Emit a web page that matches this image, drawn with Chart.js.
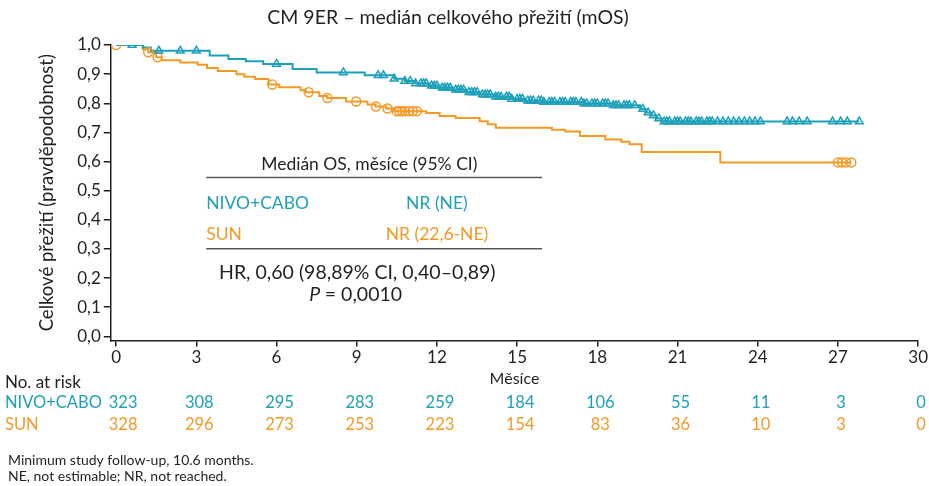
<!DOCTYPE html>
<html>
<head>
<meta charset="utf-8">
<script src="https://cdn.jsdelivr.net/npm/chart.js@4.4.1/dist/chart.umd.min.js"></script>
<style>
  html, body { margin: 0; padding: 0; background: #ffffff; }
  #wrap { width: 929px; height: 486px; position: relative; }
</style>
</head>
<body>
<div id="wrap"><canvas id="c" width="929" height="486"></canvas></div>
<script>
// ---------- DATA ----------
const titleText = 'CM 9ER – medián celkového přežití (mOS)';
const seriesNames = ['NIVO+CABO', 'SUN'];

// Kaplan–Meier step points (months, survival after that time)
const nivoTimes = [0, 1.0, 1.3, 3.5, 4.2, 4.85, 5.5, 6.6, 7.5, 9.3, 10.4, 10.8, 11.2, 11.7, 12.1, 12.6, 13.1, 13.6, 14.2, 14.8, 15.3, 16.0, 17.5, 18.6, 19.6, 19.8, 20.0, 20.2, 20.4, 27.8];
const nivoSurv  = [1.0, 0.991, 0.980, 0.964, 0.952, 0.944, 0.935, 0.918, 0.906, 0.896, 0.884, 0.876, 0.868, 0.860, 0.853, 0.846, 0.838, 0.830, 0.822, 0.815, 0.809, 0.804, 0.799, 0.793, 0.780, 0.768, 0.758, 0.748, 0.737, 0.737];
const nivoCensor = [0.6, 1.6, 2.4, 3.0, 6.0, 8.5, 9.8, 10.0, 10.4, 10.8, 11.0, 11.2, 11.4, 11.5, 11.6, 11.8, 11.9, 12.0, 12.2, 12.3, 12.4, 12.5, 12.7, 12.8, 12.9, 13.0, 13.2, 13.3, 13.4, 13.5, 13.7, 13.8, 13.9, 14.0, 14.2, 14.3, 14.4, 14.6, 14.7, 14.8, 15.0, 15.1, 15.2, 15.4, 15.5, 15.6, 15.8, 15.9, 16.0, 16.2, 16.3, 16.4, 16.6, 16.7, 16.8, 17.0, 17.1, 17.2, 17.4, 17.5, 17.6, 17.8, 17.9, 18.0, 18.2, 18.3, 18.4, 18.6, 18.7, 18.8, 19.0, 19.1, 19.2, 19.4, 19.7, 19.9, 20.1, 20.3, 20.5, 20.6, 20.7, 20.9, 21.0, 21.1, 21.3, 21.4, 21.5, 21.7, 21.8, 21.9, 22.1, 22.2, 22.3, 22.5, 22.7, 22.9, 23.1, 23.3, 23.5, 23.7, 23.9, 24.1, 25.1, 25.3, 25.55, 25.85, 26.8, 27.1, 27.35, 27.8];

const sunTimes = [0, 1.0, 1.2, 1.5, 1.7, 2.4, 3.05, 3.4, 3.8, 4.5, 4.8, 5.2, 5.7, 6.1, 6.9, 7.1, 7.6, 7.9, 8.6, 9.4, 9.7, 10.1, 10.4, 11.6, 12.1, 12.7, 13.6, 13.9, 14.2, 16.3, 16.8, 17.35, 18.3, 18.9, 19.2, 19.66, 22.6, 27.5];
const sunSurv  = [1.0, 0.985, 0.975, 0.958, 0.948, 0.940, 0.932, 0.921, 0.911, 0.900, 0.891, 0.883, 0.864, 0.855, 0.845, 0.838, 0.825, 0.818, 0.806, 0.796, 0.789, 0.782, 0.773, 0.767, 0.756, 0.749, 0.738, 0.728, 0.716, 0.709, 0.703, 0.688, 0.676, 0.668, 0.659, 0.633, 0.597, 0.597];
const sunCensor = [0, 1.2, 1.55, 5.84, 7.2, 7.9, 8.98, 9.72, 10.15, 10.5, 10.6, 10.7, 10.8, 10.95, 11.1, 11.25, 27.0, 27.15, 27.3, 27.5];

const xTicks = [0, 3, 6, 9, 12, 15, 18, 21, 24, 27, 30];
const yTicks = [0, 0.1, 0.2, 0.3, 0.4, 0.5, 0.6, 0.7, 0.8, 0.9, 1.0];
const riskTimes = [0, 3, 6, 9, 12, 15, 18, 21, 24, 27, 30];
const nivoRisk = [323, 308, 295, 283, 259, 184, 106, 55, 11, 3, 0];
const sunRisk  = [328, 296, 273, 253, 223, 154, 83, 36, 10, 3, 0];

const insetHeader = 'Medián OS, měsíce (95% CI)';
const insetMedians = ['NR (NE)', 'NR (22,6-NE)'];
const hrText = 'HR, 0,60 (98,89% CI, 0,40–0,89)';
const pText = '= 0,0010';
const footnotes = ['Minimum study follow-up, 10.6 months.', 'NE, not estimable; NR, not reached.'];

// ---------- STYLE ----------
const TEAL = '#1ea0ba';
const ORANGE = '#f39a26';
const DARK = '#231f20';
const FONT = 'Lato, "Open Sans", sans-serif';

function stepLookup(times, surv, t) {
  let v = surv[0];
  for (let i = 0; i < times.length; i++) { if (times[i] <= t) v = surv[i]; }
  return v;
}
const nivoLine = nivoTimes.map((t, i) => ({ x: t, y: nivoSurv[i] }));
const sunLine = sunTimes.map((t, i) => ({ x: t, y: sunSurv[i] }));
const nivoMarks = nivoCensor.map(t => ({ x: t, y: stepLookup(nivoTimes, nivoSurv, t) }));
const sunMarks = sunCensor.map(t => ({ x: t, y: stepLookup(sunTimes, sunSurv, t) }));

const extras = {
  id: 'extras',
  afterDraw(chart) {
    const ctx = chart.ctx;
    const xs = chart.scales.x, ys = chart.scales.y;
    const X = v => xs.getPixelForValue(v);
    const Y = v => ys.getPixelForValue(v);
    ctx.save();
    ctx.textBaseline = 'middle';

    // title
    ctx.font = '19.5px ' + FONT;
    ctx.fillStyle = DARK;
    ctx.textAlign = 'center';
    ctx.fillText(titleText, 448, 18);

    // inset table
    const x0 = X(3.37), x1 = X(15.93);
    ctx.font = '17.5px ' + FONT;
    ctx.fillStyle = DARK;
    ctx.textAlign = 'center';
    ctx.fillText(insetHeader, X(9.47), Y(0.591));
    ctx.strokeStyle = '#555';
    ctx.lineWidth = 1.5;
    ctx.beginPath(); ctx.moveTo(x0, Y(0.545)); ctx.lineTo(x1, Y(0.545)); ctx.stroke();
    ctx.beginPath(); ctx.moveTo(x0, Y(0.301)); ctx.lineTo(x1, Y(0.301)); ctx.stroke();
    ctx.textAlign = 'left';
    ctx.fillStyle = TEAL; ctx.fillText(seriesNames[0], x0, Y(0.456));
    ctx.fillStyle = ORANGE; ctx.fillText(seriesNames[1], x0, Y(0.349));
    ctx.textAlign = 'center';
    ctx.fillStyle = TEAL; ctx.fillText(insetMedians[0], X(12.0), Y(0.456));
    ctx.fillStyle = ORANGE; ctx.fillText(insetMedians[1], X(12.0), Y(0.349));
    ctx.fillStyle = DARK;
    ctx.font = '19.5px ' + FONT;
    ctx.fillText(hrText, X(9.02), Y(0.218));
    ctx.font = 'italic 19.5px ' + FONT;
    const pw = ctx.measureText('P ').width;
    ctx.font = '19.5px ' + FONT;
    const rw = ctx.measureText(pText).width;
    const pStart = X(8.96) - (pw + rw) / 2;
    ctx.textAlign = 'left';
    ctx.font = 'italic 19.5px ' + FONT;
    ctx.fillText('P ', pStart, Y(0.143));
    ctx.font = '19.5px ' + FONT;
    ctx.fillText(pText, pStart + pw, Y(0.143));

    // at-risk table
    ctx.font = '17px ' + FONT;
    ctx.fillStyle = DARK;
    ctx.textAlign = 'left';
    ctx.fillText('No. at risk', 5, 383);
    ctx.font = '16.5px ' + FONT;
    ctx.fillStyle = TEAL; ctx.fillText(seriesNames[0], 5, 403);
    ctx.fillStyle = ORANGE; ctx.fillText(seriesNames[1], 5, 425);
    ctx.textAlign = 'center';
    riskTimes.forEach((t, i) => {
      const px = X(t) + (i === 0 ? 7 : 3);
      ctx.fillStyle = TEAL; ctx.fillText(String(nivoRisk[i]), px, 403);
      ctx.fillStyle = ORANGE; ctx.fillText(String(sunRisk[i]), px, 425);
    });

    // footnotes
    ctx.font = '14px ' + FONT;
    ctx.fillStyle = DARK;
    ctx.textAlign = 'left';
    ctx.fillText(footnotes[0], 8, 460);
    ctx.fillText(footnotes[1], 8, 476);
    ctx.restore();
  }
};

new Chart(document.getElementById('c'), {
  type: 'scatter',
  data: {
    datasets: [
      { type: 'line', label: seriesNames[0], data: nivoLine, stepped: 'before', borderColor: TEAL, borderWidth: 2, pointRadius: 0, fill: false, order: 2 },
      { label: seriesNames[0] + ' censored', data: nivoMarks, pointStyle: 'triangle', pointRadius: 4.5, borderColor: TEAL, backgroundColor: 'rgba(255,255,255,0)', borderWidth: 1.5, order: 1 },
      { type: 'line', label: seriesNames[1], data: sunLine, stepped: 'before', borderColor: ORANGE, borderWidth: 2, pointRadius: 0, fill: false, order: 2 },
      { label: seriesNames[1] + ' censored', data: sunMarks, pointStyle: 'circle', pointRadius: 4.5, borderColor: ORANGE, backgroundColor: 'rgba(255,255,255,0)', borderWidth: 1.5, order: 1 }
    ]
  },
  options: {
    responsive: false,
    animation: false,
    events: [],
    layout: { padding: { left: 25, right: 0, top: 45, bottom: 98 } },
    plugins: {
      legend: { display: false },
      tooltip: { enabled: false },
      title: { display: false }
    },
    scales: {
      x: {
        type: 'linear', min: -0.2, max: 30,
        afterBuildTicks: s => { s.ticks = xTicks.map(v => ({ value: v })); },
        grid: { drawOnChartArea: false, drawTicks: true, tickLength: 6, color: DARK, lineWidth: 1.5 },
        border: { display: true, color: DARK, width: 1.5 },
        ticks: { color: DARK, font: { family: FONT, size: 17 }, padding: 1, maxRotation: 0 },
        title: { display: true, text: 'Měsíce', color: DARK, font: { family: FONT, size: 16 }, padding: { top: 0, bottom: 0 } }
      },
      y: {
        type: 'linear', min: -0.014, max: 1.0,
        afterBuildTicks: s => { s.ticks = yTicks.map(v => ({ value: v })); },
        grid: { drawOnChartArea: false, drawTicks: true, tickLength: 7, color: DARK, lineWidth: 1.5 },
        border: { display: true, color: DARK, width: 1.5 },
        ticks: { color: DARK, font: { family: FONT, size: 17 }, padding: 3, callback: v => v.toFixed(1).replace('.', ',') },
        title: { display: true, text: 'Celkové přežití (pravděpodobnost)', color: DARK, font: { family: FONT, size: 18.5 }, padding: { top: 11, bottom: 16 } }
      }
    }
  },
  plugins: [extras]
});
</script>
</body>
</html>
